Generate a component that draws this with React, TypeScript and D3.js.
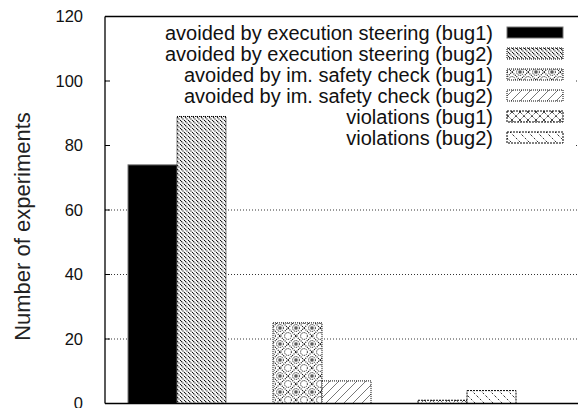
import React from "react";
import * as d3 from "d3";

const categories = ["execution steering", "im. safety check", "violations"];
const bugs = ["bug1", "bug2"];
const bug1Values = [74, 25, 1];
const bug2Values = [89, 7, 4];
const yTicks = [0, 20, 40, 60, 80, 100, 120];
const legendLabels = [
  "avoided by execution steering (bug1)",
  "avoided by execution steering (bug2)",
  "avoided by im. safety check (bug1)",
  "avoided by im. safety check (bug2)",
  "violations (bug1)",
  "violations (bug2)",
];
const yLabel = "Number of experiments";

const W = 578;
const H = 408;
const left = 105;
const right = 578;
const top = 16.5;
const bottom = 403.5;
const barW = 49;

const patternIds = ["p0", "p1", "p2", "p3", "p4", "p5"];
const outlines = [
  { stroke: "#777", dash: "none" },
  { stroke: "#000", dash: "1,1" },
  { stroke: "#000", dash: "1,1" },
  { stroke: "#000", dash: "1,1" },
  { stroke: "#000", dash: "2,1" },
  { stroke: "#000", dash: "2,1" },
];

export default function App() {
  const y = d3.scaleLinear().domain([0, 120]).range([bottom, top]);
  const x = d3.scaleLinear().domain([0, 2]).range([177, 467]);
  const sub = d3.scaleBand().domain(bugs).range([-barW, barW]);
  const font = "'Liberation Sans', Arial, Helvetica, sans-serif";

  const bars: { v: number; cat: number; bug: string; idx: number }[] = [];
  categories.forEach((_, i) => {
    bars.push({ v: bug1Values[i], cat: i, bug: "bug1", idx: i * 2 });
    bars.push({ v: bug2Values[i], cat: i, bug: "bug2", idx: i * 2 + 1 });
  });

  const legendY = (i: number) => 32.5 + i * 21;

  return (
    <svg width={W} height={H} style={{ position: "absolute", left: 0, top: 0 }}>
      <defs>
        <pattern id="p0" width="4" height="4" patternUnits="userSpaceOnUse">
          <rect width="4" height="4" fill="#000" />
        </pattern>
        <pattern id="p1" width="4" height="4" patternUnits="userSpaceOnUse">
          <rect width="4" height="4" fill="#fff" />
          <path d="M0,0 L4,4 M-1,3 L1,5 M3,-1 L5,1" stroke="#000" strokeWidth="1.15" strokeDasharray="1.2,0.6" />
        </pattern>
        <pattern id="p2" width="16" height="16" patternUnits="userSpaceOnUse">
          <rect width="16" height="16" fill="#fff" />
          <path d="M0,8 L8,0 L16,8 L8,16 Z" fill="none" stroke="#000" strokeWidth="1.1" strokeDasharray="1,1" />
          <circle cx="8" cy="8" r="3.4" fill="none" stroke="#000" strokeWidth="1" strokeDasharray="1,1" />
          <rect x="7" y="7" width="2" height="2" fill="none" stroke="#000" strokeWidth="0.8" />
          <circle cx="0" cy="0" r="3.4" fill="none" stroke="#000" strokeWidth="1" strokeDasharray="1,1" />
          <circle cx="16" cy="0" r="3.4" fill="none" stroke="#000" strokeWidth="1" strokeDasharray="1,1" />
          <circle cx="0" cy="16" r="3.4" fill="none" stroke="#000" strokeWidth="1" strokeDasharray="1,1" />
          <circle cx="16" cy="16" r="3.4" fill="none" stroke="#000" strokeWidth="1" strokeDasharray="1,1" />
        </pattern>
        <pattern id="p3" width="9" height="9" patternUnits="userSpaceOnUse">
          <rect width="9" height="9" fill="#fff" />
          <path d="M0,9 L9,0 M-1,1 L1,-1 M8,10 L10,8" stroke="#555" strokeWidth="0.8" />
        </pattern>
        <pattern id="p4" width="8" height="8" patternUnits="userSpaceOnUse">
          <rect width="8" height="8" fill="#fff" />
          <path d="M0,0 L8,8 M8,0 L0,8" stroke="#000" strokeWidth="1" strokeDasharray="1,1" />
        </pattern>
        <pattern id="p5" width="9" height="9" patternUnits="userSpaceOnUse">
          <rect width="9" height="9" fill="#fff" />
          <path d="M0,0 L9,9 M-1,8 L1,10 M8,-1 L10,1" stroke="#333" strokeWidth="1" strokeDasharray="2,2" />
        </pattern>
      </defs>
      <rect width={W} height={H} fill="#fff" />

      {/* grid */}
      {yTicks.filter((t) => t > 0 && t < 120).map((t) => (
        <line key={"g" + t} x1={left} x2={right} y1={y(t)} y2={y(t)} stroke="#000" strokeWidth="0.8" strokeDasharray="1,2" />
      ))}

      {/* legend background */}
      <rect x={left + 1} y={top + 1} width={574 - left - 1} height={150 - top - 1} fill="#fff" />

      {/* bars */}
      {bars.map((b) => {
        const bx = x(b.cat) + (sub(b.bug) as number);
        return (
          <rect
            key={"b" + b.idx}
            x={bx}
            y={y(b.v)}
            width={sub.bandwidth()}
            height={y(0) - y(b.v)}
            fill={`url(#${patternIds[b.idx]})`}
            stroke={outlines[b.idx].stroke}
            strokeWidth="1"
            strokeDasharray={outlines[b.idx].dash}
          />
        );
      })}

      {legendLabels.map((l, i) => (
        <g key={"l" + i}>
          <text x={493} y={legendY(i)} dy="0.35em" textAnchor="end" fontFamily={font} fontSize="20" fill="#111">
            {l}
          </text>
          <rect
            x={507}
            y={legendY(i) - 5.5}
            width={56}
            height={11}
            fill={`url(#${patternIds[i]})`}
            stroke={outlines[i].stroke}
            strokeWidth="1"
            strokeDasharray={outlines[i].dash}
          />
        </g>
      ))}

      {/* axes */}
      <line x1={left} x2={right} y1={top} y2={top} stroke="#000" strokeWidth="1.3" />
      <line x1={left} x2={right} y1={bottom} y2={bottom} stroke="#000" strokeWidth="1.5" />
      <line x1={left} x2={left} y1={top} y2={bottom} stroke="#000" strokeWidth="1.3" />
      {yTicks.map((t) => (
        <g key={"t" + t}>
          <line x1={left} x2={left + 5} y1={y(t)} y2={y(t)} stroke="#000" strokeWidth="1" />
          <text x={83} y={y(t)} dy="0.36em" textAnchor="end" fontFamily={font} fontSize="16.5" fill="#111">
            {t}
          </text>
        </g>
      ))}
      <text
        transform={`translate(30,226.5) rotate(-90)`}
        textAnchor="middle"
        fontFamily={font}
        fontSize="22"
        fill="#222"
      >
        {yLabel}
      </text>
    </svg>
  );
}
